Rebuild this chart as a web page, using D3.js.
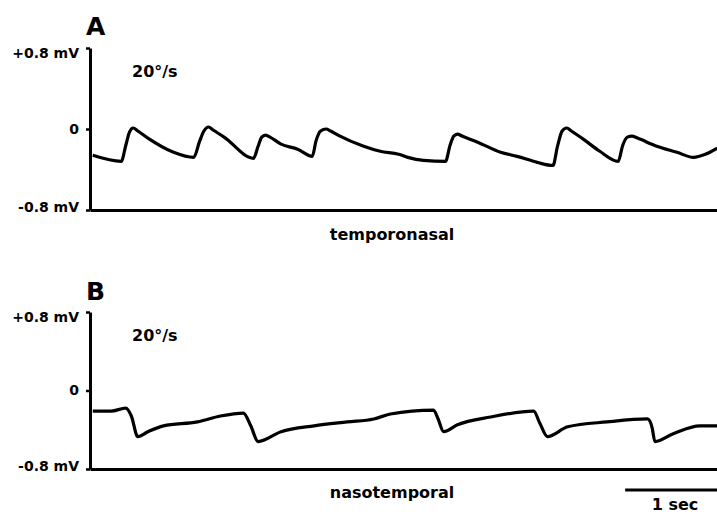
<!DOCTYPE html>
<html>
<head>
<meta charset="utf-8">
<script src="https://cdn.jsdelivr.net/npm/d3@7"></script>
<style>
  body { margin: 0; background: #fff; }
  svg { display: block; }
  text { font-family: "DejaVu Sans", Arial, sans-serif; font-weight: bold; fill: #000; }
</style>
</head>
<body>
<svg id="chart" width="717" height="514"></svg>
<script>
'use strict' ;

// time in seconds, potential in mV
const traceA = [
	[0.03, -0.26], [0.34, -0.32], [0.39, -0.16], [0.43, -0.03], [0.47, 0.01], [0.52, -0.02],
	[0.63, -0.09], [0.91, -0.23], [1.13, -0.28], [1.19, -0.13], [1.24, -0.02], [1.29, 0.02], [1.34, -0.01],
	[1.46, -0.08], [1.78, -0.29], [1.83, -0.17], [1.87, -0.08], [1.91, -0.06], [1.96, -0.08],
	[2.08, -0.15], [2.26, -0.20], [2.42, -0.27], [2.46, -0.12], [2.51, -0.02], [2.57, 0.00], [2.62, -0.02],
	[2.70, -0.06], [2.98, -0.17], [3.16, -0.22], [3.36, -0.25], [3.46, -0.28], [3.63, -0.31], [3.87, -0.32],
	[3.92, -0.16], [3.96, -0.07], [4.00, -0.05], [4.05, -0.07],
	[4.22, -0.13], [4.47, -0.23], [4.65, -0.27], [4.87, -0.33], [5.04, -0.36], [5.09, -0.17], [5.14, -0.02],
	[5.19, 0.01], [5.24, -0.02], [5.37, -0.10], [5.55, -0.22], [5.75, -0.32], [5.80, -0.16], [5.85, -0.08],
	[5.90, -0.07], [5.96, -0.09], [6.17, -0.17], [6.39, -0.23], [6.57, -0.28], [6.70, -0.25], [6.83, -0.19]
] ;

const traceB = [
	[0.03, -0.21], [0.23, -0.21], [0.39, -0.18], [0.45, -0.26], [0.52, -0.47], [0.63, -0.42],
	[0.80, -0.36], [1.17, -0.32], [1.42, -0.26], [1.67, -0.23], [1.75, -0.36], [1.83, -0.52],
	[2.08, -0.42], [2.44, -0.36], [2.80, -0.32], [3.09, -0.29], [3.27, -0.24], [3.74, -0.20],
	[3.79, -0.29], [3.85, -0.42], [4.00, -0.35], [4.36, -0.27], [4.83, -0.21], [4.90, -0.34],
	[4.98, -0.47], [5.20, -0.37], [5.63, -0.32], [6.07, -0.29], [6.12, -0.38], [6.15, -0.52],
	[6.35, -0.44], [6.64, -0.36], [6.83, -0.36]
] ;

const yTicks = [ -0.8, 0, 0.8 ] ;
const yTickLabels = [ "-0.8 mV", "0", "+0.8 mV" ] ;
const duration = 6.826 ; // seconds shown
const scaleBarSec = 1 ;

const panels = [
	{ letter: "A", speed: "20°/s", direction: "temporonasal", data: traceA, top: 48, bottom: 210, letterY: 35, dirY: 240 },
	{ letter: "B", speed: "20°/s", direction: "nasotemporal", data: traceB, top: 312, bottom: 469, letterY: 300, dirY: 498 }
] ;

const svg = d3.select( '#chart' ) ;
const axisX = 90 ;

const x = d3.scaleLinear()
	.domain( [ 0, duration ] )
	.range( [ axisX, 717 ] ) ;

panels.forEach( p => {
	let y = d3.scaleLinear()
		.domain( [ -0.8, 0.8 ] )
		.range( [ p.bottom, p.top ] ) ;
	let g = svg.append( 'g' ) ;

	// left axis
	let ya = g.append( 'g' )
		.attr( 'transform', 'translate(' + axisX + ',0)' )
		.call( d3.axisLeft( y )
			.tickValues( yTicks )
			.tickSize( 4 )
			.tickSizeOuter( 0 )
			.tickFormat( ( d, i ) => yTickLabels[i] ) ) ;
	ya.select( '.domain' ).attr( 'stroke', '#000' ).attr( 'stroke-width', 3 ) ;
	ya.selectAll( '.tick line' ).attr( 'stroke', '#000' ).attr( 'stroke-width', 2.5 ) ;
	ya.selectAll( '.tick text' )
		.attr( 'x', -11 )
		.attr( 'font-size', 14 )
		.attr( 'font-family', null )
		.attr( 'dy', ( d ) => d > 0 ? '0.7em' : ( d < 0 ? '0.1em' : '0.32em' ) ) ;

	// bottom axis line
	let xa = g.append( 'g' )
		.attr( 'transform', 'translate(0,' + p.bottom + ')' )
		.call( d3.axisBottom( x ).tickValues( [] ).tickSizeOuter( 0 ) ) ;
	xa.select( '.domain' ).attr( 'stroke', '#000' ).attr( 'stroke-width', 3 ) ;

	// trace
	g.append( 'path' )
		.datum( p.data )
		.attr( 'fill', 'none' )
		.attr( 'stroke', '#000' )
		.attr( 'stroke-width', 3.2 )
		.attr( 'stroke-linejoin', 'round' )
		.attr( 'd', d3.line().curve( d3.curveMonotoneX ).x( d => x( d[0] ) ).y( d => y( d[1] ) ) ) ;

	g.append( 'text' )
		.attr( 'x', 86 )
		.attr( 'y', p.letterY )
		.attr( 'font-family', '"Liberation Sans", Arial, sans-serif' )
		.attr( 'font-size', 25 )
		.text( p.letter ) ;

	g.append( 'text' )
		.attr( 'x', 132 )
		.attr( 'y', p.top + 29 )
		.attr( 'font-size', 16 )
		.text( p.speed ) ;

	g.append( 'text' )
		.attr( 'x', 392 )
		.attr( 'y', p.dirY )
		.attr( 'text-anchor', 'middle' )
		.attr( 'font-size', 16 )
		.text( p.direction ) ;
} ) ;

// scale bar
{
	let x0 = x( duration - scaleBarSec ) ;
	let x1 = x( duration ) ;
	svg.append( 'line' )
		.attr( 'x1', x0 ).attr( 'x2', x1 )
		.attr( 'y1', 490 ).attr( 'y2', 490 )
		.attr( 'stroke', '#000' )
		.attr( 'stroke-width', 3 ) ;
	svg.append( 'text' )
		.attr( 'x', 675 )
		.attr( 'y', 510 )
		.attr( 'text-anchor', 'middle' )
		.attr( 'font-size', 16 )
		.text( scaleBarSec + " sec" ) ;
}
</script>
</body>
</html>
